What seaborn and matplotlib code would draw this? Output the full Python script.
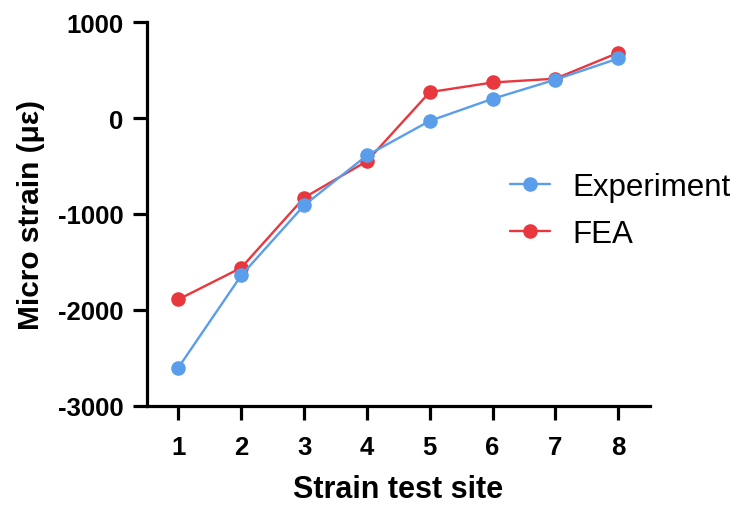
import matplotlib
matplotlib.use("Agg")
import matplotlib.pyplot as plt
import seaborn as sns
import pandas as pd

# Strain readings at each test site (micro strain)
sites = [1, 2, 3, 4, 5, 6, 7, 8]
experiment = [-2600, -1640, -910, -390, -30, 200, 400, 620]
fea = [-1890, -1560, -830, -450, 270, 370, 410, 680]

series_names = ["Experiment", "FEA"]
series_colors = {"Experiment": "#5A9DEB", "FEA": "#E8373D"}

y_ticks = [-3000, -2000, -1000, 0, 1000]

sns.set_style("ticks")
plt.rcParams["font.family"] = ["Liberation Sans", "DejaVu Sans"]
plt.rcParams.update({
    "text.color": "black",
    "axes.labelcolor": "black",
    "xtick.color": "black",
    "ytick.color": "black",
    "axes.edgecolor": "black",
})

df = pd.DataFrame({
    "site": sites * 2,
    "strain": experiment + fea,
    "series": ["Experiment"] * len(sites) + ["FEA"] * len(sites),
})

fig = plt.figure(figsize=(7.4, 5.06), dpi=100)
ax = fig.add_axes([0.1986, 0.1957, 0.6794, 0.7588])

# FEA first so the experimental markers sit on top
handles = {}
for name in ["FEA", "Experiment"]:
    sub = df[df["series"] == name]
    sns.lineplot(data=sub, x="site", y="strain", ax=ax, color=series_colors[name],
                 marker="o", markersize=10.5, markeredgewidth=0, linewidth=1.7,
                 label=name, legend=False)
    handles[name] = ax.lines[-1]

ax.set_xlim(0.5, 8.5)
ax.set_ylim(-3000, 1000)
ax.set_xticks(sites)
ax.set_yticks(y_ticks)
ax.set_xticklabels([str(s) for s in sites])
ax.set_yticklabels([str(t) for t in y_ticks])

for side in ["top", "right"]:
    ax.spines[side].set_visible(False)
for side in ["left", "bottom"]:
    ax.spines[side].set_linewidth(2.3)
    ax.spines[side].set_color("black")

ax.tick_params(axis="both", direction="out", length=10, width=2.3, colors="black",
               labelsize=18.5)
ax.tick_params(axis="y", pad=7)
ax.tick_params(axis="x", pad=11)
for lab in ax.get_xticklabels() + ax.get_yticklabels():
    lab.set_fontweight("bold")

ax.set_xlabel("Strain test site", fontsize=22, fontweight="bold", labelpad=11)
ax.set_ylabel("Micro strain (\u03bc\u03b5)", fontsize=21.5, fontweight="bold", labelpad=9)

leg = fig.legend(handles=[handles[n] for n in series_names], labels=series_names,
                 loc="center left", bbox_to_anchor=(0.689, 0.582), frameon=False,
                 fontsize=22.5, handlelength=1.3, handletextpad=0.7, labelspacing=0.55,
                 borderpad=0, borderaxespad=0)
for t in leg.get_texts():
    t.set_color("black")

ax.grid(False)
fig.savefig("out.png", dpi=100)
